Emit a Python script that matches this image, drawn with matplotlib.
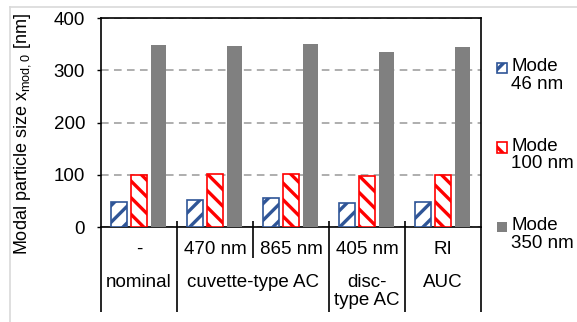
import matplotlib
matplotlib.use("Agg")
import matplotlib.pyplot as plt
import matplotlib.transforms as mtransforms
from matplotlib.patches import Rectangle
from matplotlib.legend_handler import HandlerPatch
import numpy as np

plt.rcParams['font.family'] = ['Liberation Sans', 'DejaVu Sans']
plt.rcParams['hatch.linewidth'] = 2.4

# ---- data ----
level1 = ['-', '470 nm', '865 nm', '405 nm', 'RI']
level2 = ['nominal', 'cuvette-type AC', 'disc-\ntype AC', 'AUC']
level2_span = [(0, 0), (1, 2), (3, 3), (4, 4)]
series_names = ['Mode\n46 nm', 'Mode\n100 nm', 'Mode\n350 nm']
mode46 = [47, 52, 55, 46, 48]
mode100 = [100, 102, 102, 97, 100]
mode350 = [348, 346, 351, 334, 345]
yticks = [0, 100, 200, 300, 400]

W, H = 577, 322
fig = plt.figure(figsize=(W / 100, H / 100), dpi=100)
fs = 13.5

# page border lines
fig.add_artist(plt.Line2D([10 / W, 1], [1 - 7 / H, 1 - 7 / H], color='#d9d9d9', lw=1.2))
fig.add_artist(plt.Line2D([10 / W, 10 / W], [0, 1 - 7 / H], color='#d9d9d9', lw=1.2))

L, R, T, B = 101, 481, 18, 227
ax = fig.add_axes([L / W, 1 - B / H, (R - L) / W, (B - T) / H])

x = np.arange(len(level1))
off = 0.26
b1 = ax.bar(x - off, mode46, width=0.215, facecolor='white', edgecolor='#2F5597',
            hatch='//', linewidth=1.2, label=series_names[0], zorder=3)
b2 = ax.bar(x, mode100, width=0.215, facecolor='white', edgecolor='#FF0000',
            hatch='\\\\', linewidth=1.2, label=series_names[1], zorder=3)
b3 = ax.bar(x + off, mode350, width=0.195, color='#808080', linewidth=0,
            label=series_names[2], zorder=3)

ax.set_xlim(-0.5, len(level1) - 0.5)
ax.set_ylim(0, 400)
ax.set_yticks(yticks)
ax.tick_params(axis='y', direction='out', length=3, width=1, pad=8.5, labelsize=fs)
ax.set_xticks([])
for s in ax.spines.values():
    s.set_linewidth(1.2)
    s.set_color('black')
ax.yaxis.grid(True, linestyle=(0, (5, 3.5)), color='#999999', linewidth=1.1, zorder=0)
ax.set_axisbelow(True)

ax.set_ylabel(r'Modal particle size x$_\mathregular{mod,0}$ [nm]', fontsize=13)
ax.yaxis.set_label_coords(-0.179, 0.447)

trans = mtransforms.blended_transform_factory(ax.transData, ax.transAxes)
ph = B - T
for i, lab in enumerate(level1):
    ax.text(i, -22 / ph, lab, transform=trans, ha='center', va='center', fontsize=fs)
for lab, (a, b) in zip(level2, level2_span):
    ax.text((a + b) / 2, -47 / ph, lab, transform=trans, ha='center', va='top',
            fontsize=fs, linespacing=1.05)

# separators
long_bounds = [-0.5, 0.5, 2.5, 3.5, 4.5]
for xb in long_bounds:
    top = 6 / ph if -0.5 < xb < 4.5 else 0
    ax.plot([xb, xb], [top, -85 / ph], transform=trans, color='black', lw=1.2,
            clip_on=False, solid_capstyle='butt')
ax.plot([1.5, 1.5], [6 / ph, -31 / ph], transform=trans, color='black', lw=1.2,
        clip_on=False, solid_capstyle='butt')


def top_square(legend, orig_handle, xdescent, ydescent, width, height, fontsize):
    s = 7.5
    return Rectangle((-xdescent, -ydescent + height - s - 1.0), s, s)


hm = HandlerPatch(patch_func=top_square)
handles = [b1.patches[0], b2.patches[0], b3.patches[0]]
leg = fig.legend(handles=handles, labels=series_names, loc='upper left',
                 bbox_to_anchor=(497 / W, 1 - 58 / H), frameon=False, fontsize=fs,
                 handlelength=0.55, handleheight=2.0, handletextpad=0.2,
                 labelspacing=2.4, borderpad=0, borderaxespad=0,
                 handler_map={h: hm for h in handles})
for t in leg.get_texts():
    t.set_linespacing(1.05)

fig.savefig('out.png', dpi=100)
